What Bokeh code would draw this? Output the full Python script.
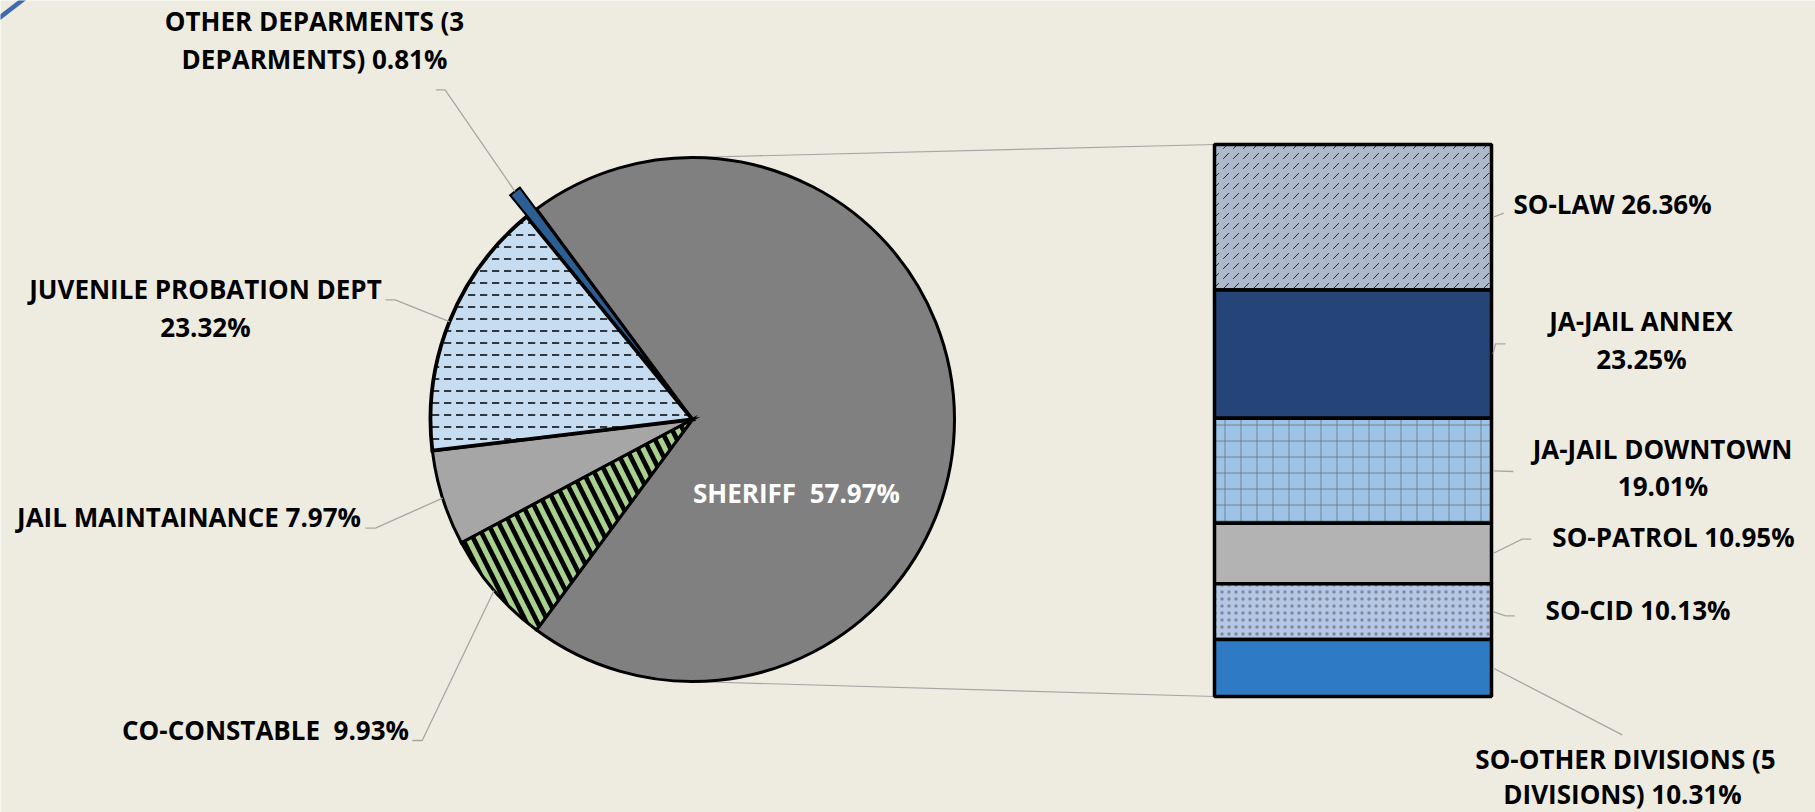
import math
from bokeh.plotting import figure
from bokeh.models import Range1d, ColumnDataSource
from bokeh.embed import file_html
from bokeh.resources import INLINE
from bokeh.core.properties import value

# ---------------- data ----------------
# pie slices, counter-clockwise starting from the SHERIFF slice (centred facing the bar)
pie_names = ["SHERIFF", "OTHER DEPARMENTS (3 DEPARMENTS)", "JUVENILE PROBATION DEPT",
             "JAIL MAINTAINANCE", "CO-CONSTABLE"]
pie_share = [70.3, 0.75, 16.0, 5.9, 7.05]
pie_label_pct = ["57.97%", "0.81%", "23.32%", "7.97%", "9.93%"]
pie_colors = ["#808080", "#2b5f93", "#c5dcf1", "#a6a6a6", "#a9d18e"]

# bar (breakdown of SHERIFF), top to bottom
bar_names = ["SO-LAW", "JA-JAIL ANNEX", "JA-JAIL DOWNTOWN", "SO-PATROL", "SO-CID",
             "SO-OTHER DIVISIONS (5 DIVISIONS)"]
bar_pct = [26.36, 23.25, 19.01, 10.95, 10.13, 10.31]
bar_label_pct = ["26.36%", "23.25%", "19.01%", "10.95%", "10.13%", "10.31%"]
bar_colors = ["#adb9ca", "#254478", "#9dc3e6", "#b3b3b3", "#b4c7e7", "#2e7bc4"]

NB = "\u00a0"
pie_label_lines = [["SHERIFF " + NB + "57.97%"],
                   ["OTHER DEPARMENTS (3", "DEPARMENTS) 0.81%"],
                   ["JUVENILE PROBATION DEPT", "23.32%"],
                   ["JAIL MAINTAINANCE 7.97%"],
                   ["CO-CONSTABLE " + NB + "9.93%"]]
bar_label_lines = [["SO-LAW 26.36%"],
                   ["JA-JAIL ANNEX", "23.25%"],
                   ["JA-JAIL DOWNTOWN", "19.01%"],
                   ["SO-PATROL 10.95%"],
                   ["SO-CID 10.13%"],
                   ["SO-OTHER DIVISIONS (5", "DIVISIONS) 10.31%"]]

# ---------------- patterns ----------------
pie_hatch = [" ", " ", '"', " ", "\\"]
pie_hatch_scale = [10, 10, 12, 10, 22]
pie_hatch_weight = [1, 1, 1.5, 1, 4.8]
bar_hatch = [",", " ", "+", " ", ".", " "]
bar_hatch_scale = [10, 10, 16, 10, 7, 10]
bar_hatch_color = ["#1a1a1a", "#000000", "#555555", "#000000", "#555555", "#000000"]
bar_hatch_alpha = [0.9, 1, 0.6, 1, 0.55, 1]

# ---------------- layout (image pixel coords, y downwards) ----------------
W, H = 1815, 812
BG = "#eeece1"
def Y(y):
    return H - y

CX, CY, R = 692, 419, 262
EXPLODE = [0, 27, 0, 0, 0]
BX0, BX1, BTOP, BBOT = 1214, 1491, 144, 696
DY = -2.0   # small correction of the text's middle baseline

pie_label_pos = [[(796, 494)],
                 [(314, 22), (314, 60)],
                 [(205, 290.5), (205, 328)],
                 [(188.5, 518.5)],
                 [(265, 731)]]
bar_label_pos = [[(1612, 205.5)],
                 [(1640.5, 322), (1641, 360)],
                 [(1662, 450), (1662.5, 487)],
                 [(1673, 538)],
                 [(1637.5, 611)],
                 [(1625, 760), (1622, 795)]]
pie_leader_start = [None,
                    [(435.7, 89.3), (444.6, 89.3)],
                    [(385, 299.3), (394.6, 299.3)],
                    [(365, 527.7), (375, 527.7)],
                    [(411.7, 740), (421.7, 740)]]
bar_leader_end = [[(1503.3, 212.7)],
                  [(1495, 343.3), (1505, 343.3)],
                  [(1513, 471)],
                  [(1521.7, 538.7), (1530.7, 538.7)],
                  [(1505, 615.3), (1514.3, 615.3)],
                  [(1621.7, 734.3)]]

p = figure(width=W, height=H, x_range=Range1d(0, W), y_range=Range1d(0, H),
           output_backend="svg", toolbar_location=None, x_axis_type=None, y_axis_type=None,
           min_border=0, background_fill_color=BG, border_fill_color=BG, outline_line_color=None)
p.grid.visible = False

# corner decoration (page border remnant)
p.line([-2, 24], [Y(18), Y(-2)], line_color="#3d69ad", line_width=4.5)

# ---------------- pie ----------------
total = sum(pie_share)
ang = [s / total * 2 * math.pi for s in pie_share]
starts, ends = [], []
a = -ang[0] / 2
for d in ang:
    starts.append(a)
    ends.append(a + d)
    a += d
mids = [(s + e) / 2 for s, e in zip(starts, ends)]
wx = [CX + EXPLODE[i] * math.cos(mids[i]) for i in range(len(ang))]
wy = [Y(CY) + EXPLODE[i] * math.sin(mids[i]) for i in range(len(ang))]
lw = [3.0, 2.2, 3.8, 3.0, 3.0]

# series lines to bar
p.line([CX, BX0], [Y(CY) + R, Y(BTOP)], line_color="#a6a6a6", line_width=1.2)
p.line([CX, BX0], [Y(CY) - R, Y(BBOT)], line_color="#a6a6a6", line_width=1.2)

order = [0, 3, 4, 2, 1]
for i in order:
    p.wedge(x=wx[i], y=wy[i], radius=R, start_angle=starts[i], end_angle=ends[i],
            fill_color=pie_colors[i], line_color="black", line_width=lw[i],
            hatch_pattern=pie_hatch[i], hatch_color="black", hatch_weight=pie_hatch_weight[i],
            hatch_scale=pie_hatch_scale[i], line_join="miter")

# ---------------- bar ----------------
btot = sum(bar_pct)
scale = (BBOT - BTOP) / btot
tops, bots = [], []
cur = BTOP
for v in bar_pct:
    tops.append(Y(cur))
    cur += v * scale
    bots.append(Y(cur))
for i in range(len(bar_pct)):
    p.quad(left=BX0, right=BX1, top=tops[i], bottom=bots[i], fill_color=bar_colors[i],
           line_color="black", line_width=3.5, hatch_pattern=bar_hatch[i],
           hatch_color=bar_hatch_color[i], hatch_weight=1, hatch_scale=bar_hatch_scale[i],
           hatch_alpha=bar_hatch_alpha[i])

# ---------------- leader lines ----------------
lxs, lys = [], []
for i in range(1, len(pie_share)):
    rr = R + EXPLODE[i]
    ex = CX + rr * math.cos(mids[i])
    ey = Y(CY) + rr * math.sin(mids[i])
    pts = pie_leader_start[i]
    lxs.append([q[0] for q in pts] + [ex])
    lys.append([Y(q[1]) for q in pts] + [ey])
for i in range(len(bar_pct)):
    my = (tops[i] + bots[i]) / 2
    pts = bar_leader_end[i]
    lxs.append([BX1 + 1.5] + [q[0] for q in pts])
    lys.append([my] + [Y(q[1]) for q in pts])
p.multi_line(xs=lxs, ys=lys, line_color="#a6a6a6", line_width=1.3)

# ---------------- labels ----------------
tx, ty, tt, tc = [], [], [], []
for i, lines in enumerate(pie_label_lines):
    for line, pos in zip(lines, pie_label_pos[i]):
        tx.append(pos[0]); ty.append(Y(pos[1] + DY)); tt.append(line)
        tc.append("white" if i == 0 else "black")
for i, lines in enumerate(bar_label_lines):
    for line, pos in zip(lines, bar_label_pos[i]):
        tx.append(pos[0]); ty.append(Y(pos[1] + DY)); tt.append(line); tc.append("black")
src = ColumnDataSource(dict(x=tx, y=ty, text=tt, color=tc))
p.text(x="x", y="y", text="text", source=src, text_color="color",
       text_font=value("Open Sans"), text_font_style="bold", text_font_size="26px",
       text_align="center", text_baseline="middle")

open("out.html", "w").write(file_html(p, INLINE))
